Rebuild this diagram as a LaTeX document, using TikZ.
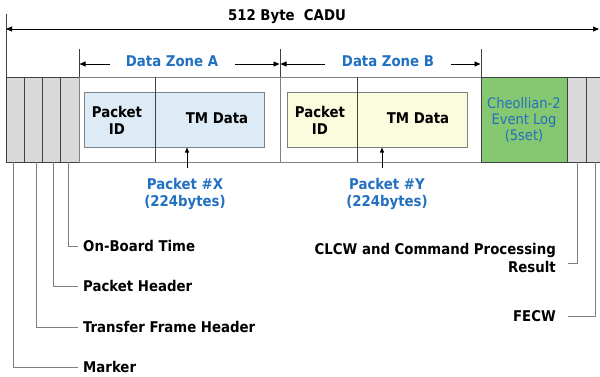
\documentclass[tikz,border=0pt]{standalone}
\usepackage{fontspec}
\setmainfont{DejaVu Sans Condensed}
\usetikzlibrary{arrows.meta}
\definecolor{cellgray}{HTML}{D9D9D9}
\definecolor{lblue}{HTML}{DDEBF7}
\definecolor{lyellow}{HTML}{FBFBDD}
\definecolor{lgreen}{HTML}{86C771}
\definecolor{tblue}{HTML}{2270C0}
\definecolor{edge}{HTML}{404040}
\definecolor{lead}{HTML}{7F7F7F}
\begin{document}
\begin{tikzpicture}[x=1pt,y=-1pt,
  cell/.style={draw=edge, line width=0.8pt, inner sep=0pt, outer sep=0pt, anchor=north west, minimum height=85pt},
  pbox/.style={draw=gray, line width=0.9pt, inner sep=0pt, outer sep=0pt, anchor=north west, minimum height=55pt, minimum width=180pt},
  btxt/.style={font=\bfseries\fontsize{14.8}{17}\selectfont, text=black, inner sep=0pt, align=center},
  ztxt/.style={font=\bfseries\fontsize{14.8}{17}\selectfont, text=tblue, inner sep=0pt, align=center},
  ltxt/.style={font=\bfseries\fontsize{14.8}{18}\selectfont, text=black, inner sep=0pt},
  dim/.style={line width=0.9pt, -{Triangle[length=6pt,width=5pt]}},
  tick/.style={line width=0.7pt, draw=edge},
  leader/.style={draw=lead, line width=1pt},
  uparr/.style={line width=0.7pt, -{Triangle[length=5pt,width=4pt]}}
]
\useasboundingbox (0,0) rectangle (600,376);
% frame background
\node[cell, draw=gray, fill=white, minimum width=598pt] (bar) at (6,77) {};
% cells
\node[cell, fill=cellgray, minimum width=18pt] (c1) at (6,77) {};
\node[cell, fill=cellgray, minimum width=18pt] (c2) at (24,77) {};
\node[cell, fill=cellgray, minimum width=18pt] (c3) at (42,77) {};
\node[cell, fill=cellgray, minimum width=19pt] (c4) at (60,77) {};
\node[cell, draw=gray, fill=white, minimum width=201pt] (za) at (79,77) {};
\node[cell, draw=gray, fill=white, minimum width=201pt] (zb) at (280,77) {};
\node[cell, fill=lgreen, minimum width=86pt] (grn) at (481,77) {};
\node[cell, fill=cellgray, minimum width=19pt] (c5) at (567,77) {};
\node[cell, fill=cellgray, minimum width=18pt] (c6) at (586,77) {};
% packet boxes
\node[pbox, fill=lblue] (pa) at (84,92) {};
\node[pbox, fill=lyellow] (pb) at (287,92) {};
\coordinate (da) at (155,77);
\coordinate (db) at (357,77);
\draw[line width=0.8pt, edge] (da) -- (da |- za.south);
\draw[line width=0.8pt, edge] (db) -- (db |- zb.south);
% packet texts
\node[btxt] (pida) at (117,120) {Packet\\ID};
\node[btxt] (tma) at (217,118) {TM Data};
\node[btxt] (pidb) at (320,120) {Packet\\ID};
\node[btxt] (tmb) at (418,118) {TM Data};
\node[font=\fontsize{14.5}{16}\selectfont, text=tblue, inner sep=0pt, align=center] (evt) at (grn.center) {Cheollian-2\\Event Log\\(5set)};
% top dimension
\coordinate (tl) at (6,14);
\draw[tick] (tl) -- (c1.north west);
\node[btxt] (cadu) at (287,17) {512 Byte\ \ CADU};
\coordinate (dl) at (6,29);
\coordinate (dr) at (599,29);
\draw[dim, {Triangle[length=6pt,width=5pt]}-{Triangle[length=6pt,width=5pt]}] (dl) -- (dr);
% zone ticks
\coordinate (ta) at (79,49);
\coordinate (tb) at (280,49);
\coordinate (tc) at (481,49);
\draw[tick] (ta) -- (za.north west);
\draw[tick] (tb) -- (zb.north west);
\draw[tick] (tc) -- (grn.north west);
% zone labels
\node[ztxt] (zla) at (172,61) {Data Zone A};
\node[ztxt] (zlb) at (388,61) {Data Zone B};
\coordinate (a1) at (110,64);
\coordinate (a2) at (235,64);
\coordinate (b1) at (325,64);
\coordinate (b2) at (451,64);
\draw[dim] (a1) -- (79.5,64);
\draw[dim] (a2) -- (279.5,64);
\draw[dim] (b1) -- (280.5,64);
\draw[dim] (b2) -- (480.5,64);
% packet labels
\node[ztxt] (pxl) at (185,194) {Packet \#X\\(224bytes)};
\node[ztxt] (pyl) at (387,194) {Packet \#Y\\(224bytes)};
\draw[uparr] (187,168) -- (187,147.5);
\draw[uparr] (382,168) -- (382,147.5);
% left labels
\node[ltxt, anchor=west] (obt) at (83,246) {On-Board Time};
\node[ltxt, anchor=west] (ph) at (83,286) {Packet Header};
\node[ltxt, anchor=west] (tfh) at (83,327) {Transfer Frame Header};
\node[ltxt, anchor=west] (mk) at (83,367) {Marker};
\draw[leader] ([xshift=-2pt]c1.south) |- ([xshift=-5pt]mk.west);
\draw[leader] ([xshift=3pt]c2.south) |- ([xshift=-5pt]tfh.west);
\draw[leader] ([xshift=2pt]c3.south) |- ([xshift=-5pt]ph.west);
\draw[leader] ([xshift=-1.5pt]c4.south) |- ([xshift=-5pt]obt.west);
% right labels
\node[ltxt, anchor=east, align=right] (clcw) at (556,258) {CLCW and Command Processing\\Result};
\node[ltxt, anchor=east] (fecw) at (556,316) {FECW};
\draw[leader] ([xshift=1pt]c5.south) |- ([xshift=12pt,yshift=-5pt]clcw.east);
\draw[leader] ([xshift=0pt]c6.south) |- ([xshift=12pt]fecw.east);
\end{tikzpicture}
\end{document}
